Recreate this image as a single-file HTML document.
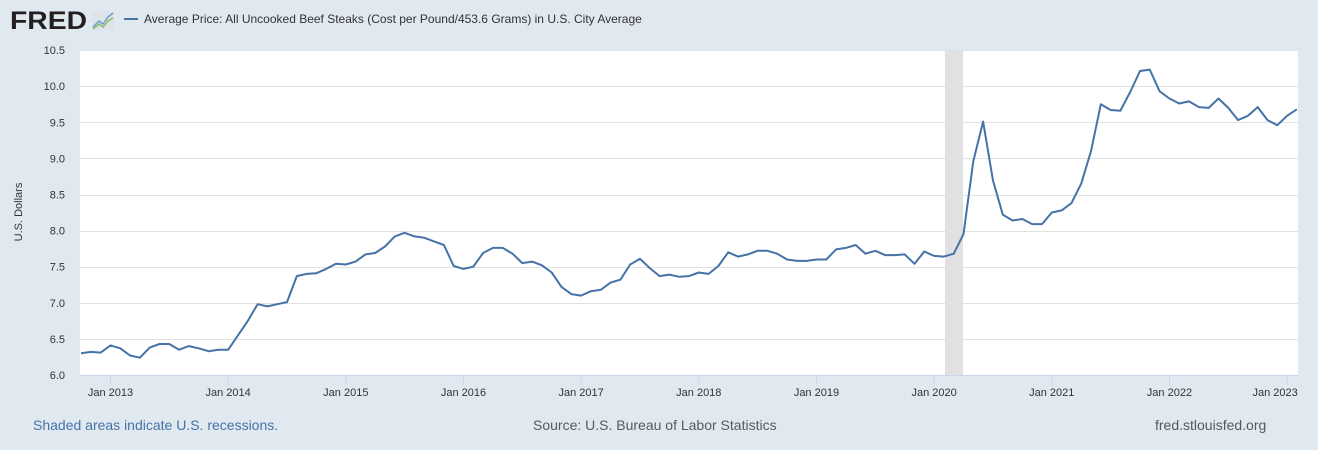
<!DOCTYPE html>
<html><head><meta charset="utf-8"><style>
html,body{margin:0;padding:0;background:#e1e9f0;width:1318px;height:450px;overflow:hidden;font-family:"Liberation Sans",Arial,sans-serif}
</style></head><body>
<svg id="s" width="1318" height="450" xmlns="http://www.w3.org/2000/svg" font-family="Liberation Sans, Arial, sans-serif">
<rect width="1318" height="450" fill="#e1e9f0"/>
<text x="10" y="29" font-size="25" font-weight="bold" fill="#231f20" textLength="77" lengthAdjust="spacingAndGlyphs">FRED</text>
<rect x="92" y="11" width="22" height="19" fill="#dde3e8" rx="2"/>
<polyline points="93,27 99,21 103,24 108,17 113,13" fill="none" stroke="#6f9fc8" stroke-width="1.5"/>
<polyline points="93,29 99,24 103,27 108,21 113,18" fill="none" stroke="#8bbb6a" stroke-width="1.5"/>
<line x1="124" y1="19" x2="138" y2="19" stroke="#4572a7" stroke-width="2"/>
<text x="144" y="23" font-size="12" fill="#333">Average Price: All Uncooked Beef Steaks (Cost per Pound/453.6 Grams) in U.S. City Average</text>
<rect x="80" y="50" width="1218" height="325" fill="#fff"/>
<rect x="945" y="50" width="18" height="325" fill="#e1e1e1"/>
<g id="grid" stroke="#e1e1e1" stroke-width="1"></g>
<line x1="80" y1="375.5" x2="1298" y2="375.5" stroke="#ccd6eb"/>
<g id="yl" font-size="11" fill="#333" text-anchor="end"></g>
<g id="xl" font-size="11" fill="#333" text-anchor="middle"></g>
<text transform="translate(22,212) rotate(-90)" font-size="11" fill="#333" text-anchor="middle">U.S. Dollars</text>
<path id="ln" fill="none" stroke="#4572a7" stroke-width="2" stroke-linejoin="round"/>
<text x="33" y="430" font-size="14" fill="#4572a7">Shaded areas indicate U.S. recessions.</text>
<text x="533" y="430" font-size="14" fill="#595959">Source: U.S. Bureau of Labor Statistics</text>
<text x="1155" y="430" font-size="14" fill="#595959">fred.stlouisfed.org</text>
</svg>
<script>
var NS="http://www.w3.org/2000/svg";
function Y(v){return 375-(v-6)*72.2;}
var g=document.getElementById('grid'),yl=document.getElementById('yl'),xl=document.getElementById('xl');
for(var v=6;v<=10.51;v+=0.5){var y=Y(v);
 if(v>6.1){var l=document.createElementNS(NS,'line');l.setAttribute('x1',80);l.setAttribute('x2',1298);l.setAttribute('y1',Math.round(y)+0.5);l.setAttribute('y2',Math.round(y)+0.5);g.appendChild(l);}
 var t=document.createElementNS(NS,'text');t.setAttribute('x',65);t.setAttribute('y',y+4);t.textContent=v.toFixed(1);yl.appendChild(t);}
for(var yr=2013;yr<=2023;yr++){var x=110.5+(yr-2013)*12*9.805;
 var l=document.createElementNS(NS,'line');l.setAttribute('x1',x);l.setAttribute('x2',x);l.setAttribute('y1',375);l.setAttribute('y2',385);l.setAttribute('stroke','#ccd6eb');xl.appendChild(l);
 var t=document.createElementNS(NS,'text');t.setAttribute('x',yr==2023?x-12:x);t.setAttribute('y',396);t.textContent='Jan '+yr;xl.appendChild(t);}
var d=[6.30,6.32,6.31,
6.41,6.37,6.27,6.24,6.38,6.43,6.43,6.35,6.40,6.37,6.33,6.35,
6.35,6.55,6.75,6.98,6.95,6.98,7.01,7.37,7.40,7.41,7.47,7.54,
7.53,7.57,7.67,7.69,7.78,7.92,7.97,7.92,7.90,7.85,7.80,7.51,
7.47,7.50,7.69,7.76,7.76,7.68,7.55,7.57,7.52,7.42,7.22,7.12,
7.10,7.16,7.18,7.28,7.32,7.53,7.61,7.48,7.37,7.39,7.36,7.37,
7.42,7.40,7.51,7.70,7.64,7.67,7.72,7.72,7.68,7.60,7.58,7.58,
7.60,7.60,7.74,7.76,7.80,7.68,7.72,7.66,7.66,7.67,7.54,7.71,
7.65,7.64,7.68,7.95,8.96,9.51,8.70,8.22,8.14,8.16,8.09,8.09,
8.25,8.28,8.38,8.65,9.10,9.75,9.67,9.66,9.92,10.21,10.23,9.93,
9.83,9.76,9.79,9.71,9.70,9.83,9.70,9.53,9.59,9.71,9.53,9.46,
9.59,9.68];
var p='';for(var i=0;i<d.length;i++){var x=110.5+(i-3)*9.805;if(x>1298)x=1298;p+=(i?'L':'M')+x.toFixed(1)+','+Y(d[i]).toFixed(1);}
document.getElementById('ln').setAttribute('d',p);
</script>
</body></html>
